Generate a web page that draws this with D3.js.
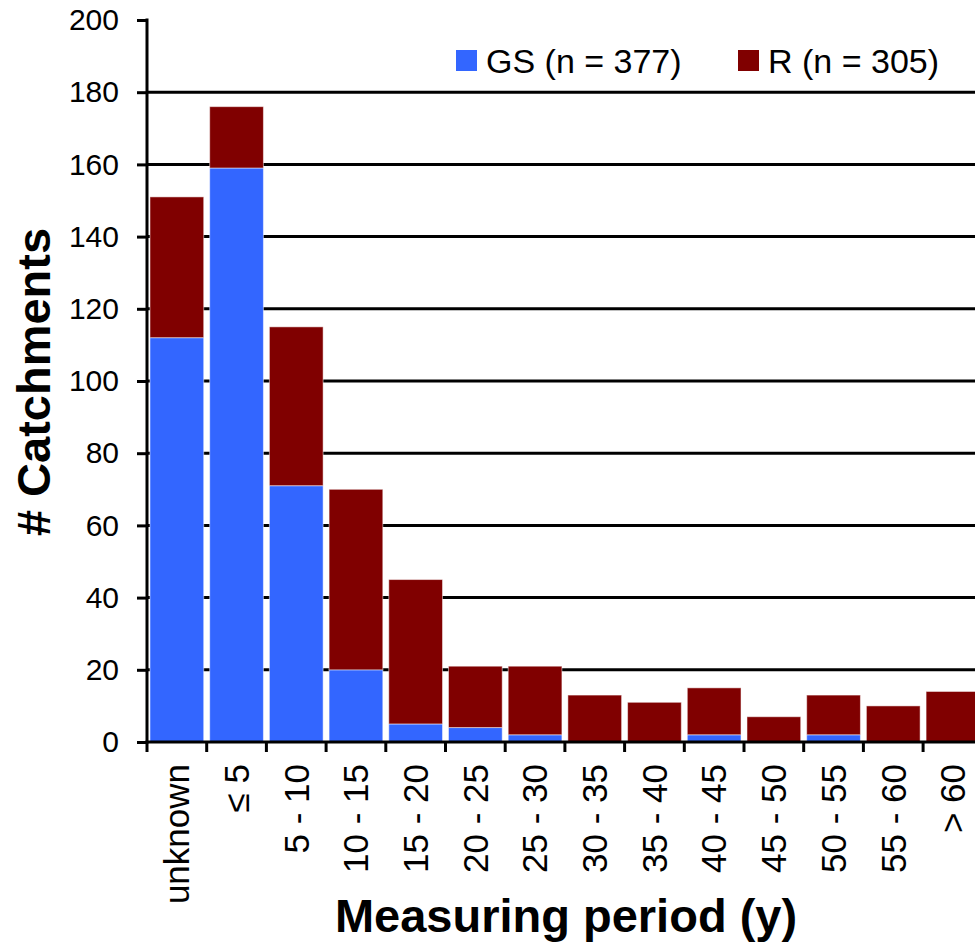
<!DOCTYPE html>
<html>
<head>
<meta charset="utf-8">
<script src="https://cdn.jsdelivr.net/npm/d3@7"></script>
<style>
    body { margin: 0; background: #fff; }
    svg { display: block; font-family: "Liberation Sans", Arial, sans-serif; }
    .grid line { stroke: #000; stroke-width: 3; }
    .bar { stroke: #fff; stroke-opacity: 0.5; stroke-width: 1; }
</style>
</head>
<body>
<svg id="main" width="975" height="949"></svg>
<script>
    // data
    var categories = ['unknown', '\u2264 5', '5 - 10', '10 - 15', '15 - 20', '20 - 25', '25 - 30',
                      '30 - 35', '35 - 40', '40 - 45', '45 - 50', '50 - 55', '55 - 60', '> 60']
    var gsValues = [112, 159, 71, 20, 5, 4, 2, 0, 0, 2, 0, 2, 0, 0]
    var rValues  = [39, 17, 44, 50, 40, 17, 19, 13, 11, 13, 7, 11, 10, 14]
    var yTicks = [0, 20, 40, 60, 80, 100, 120, 140, 160, 180, 200]
    var seriesNames = ['GS (n = 377)', 'R (n = 305)']
    var colors = ['#3366ff', '#800000']

    var svg = d3.select('#main')
    var mLeft = 147, mTop = 20, mBottom = 742
    var step = 59.7

    var x = d3.scaleBand()
        .domain(categories)
        .range([mLeft, mLeft + step * categories.length])
        .paddingInner(0.1)
        .paddingOuter(0.05)

    var y = d3.scaleLinear().domain([0, 200]).range([mBottom, mTop])

    // gridlines (no line at the top value)
    svg.append('g').attr('class', 'grid')
        .selectAll('line')
        .data(yTicks.filter(d => d > 0 && d < 200))
        .enter().append('line')
        .attr('x1', mLeft).attr('x2', 975)
        .attr('y1', d => y(d)).attr('y2', d => y(d))

    // stacked bars
    var rows = categories.map((c, i) => ({cat: c, gs: gsValues[i], r: rValues[i]}))
    var stack = d3.stack().keys(['gs', 'r'])(rows)

    svg.append('g').selectAll('g')
        .data(stack)
        .enter().append('g')
        .attr('fill', (d, i) => colors[i])
        .selectAll('rect')
        .data(d => d.filter(p => p[1] > p[0]))
        .enter().append('rect')
        .attr('class', 'bar')
        .attr('x', d => x(d.data.cat))
        .attr('width', x.bandwidth())
        .attr('y', d => y(d[1]))
        .attr('height', d => y(d[0]) - y(d[1]))

    // y axis
    var yAxis = svg.append('g')
        .attr('transform', 'translate(' + mLeft + ',0)')
        .call(d3.axisLeft(y).tickValues(yTicks).tickSize(10).tickPadding(18))
    yAxis.select('.domain').attr('stroke-width', 3).attr('d', 'M0,' + (mTop - 1.5) + 'V' + (mBottom + 1.5))
    yAxis.selectAll('.tick line').attr('stroke-width', 3)
    yAxis.selectAll('.tick text')
        .style('font-family', '"Liberation Sans", Arial, sans-serif')
        .style('font-size', '30px').attr('fill', '#000')

    // x axis: ticks sit on the band edges
    var edges = categories.map(c => x(c) - x.step() * x.paddingInner() / 2)
    edges.push(x.range()[1])
    var xg = svg.append('g')
    xg.append('line')
        .attr('x1', mLeft - 1.5).attr('x2', 975)
        .attr('y1', mBottom).attr('y2', mBottom)
        .attr('stroke', '#000').attr('stroke-width', 3)
    xg.selectAll('.xt')
        .data(edges)
        .enter().append('line')
        .attr('class', 'xt')
        .attr('x1', d => d).attr('x2', d => d)
        .attr('y1', mBottom).attr('y2', mBottom + 10)
        .attr('stroke', '#000').attr('stroke-width', 3)
    xg.selectAll('text')
        .data(categories)
        .enter().append('text')
        .attr('transform', d => 'translate(' + (x(d) + x.bandwidth() / 2) + ',' + (mBottom + 22) + ') rotate(-90)')
        .attr('text-anchor', 'end')
        .attr('dy', '0.35em')
        .style('font-size', '35px')
        .text(d => d)

    // axis titles
    svg.append('text')
        .attr('transform', 'translate(50,382) rotate(-90)')
        .attr('text-anchor', 'middle')
        .style('font-size', '47px').style('font-weight', 'bold')
        .text('# Catchments')
    svg.append('text')
        .attr('x', 566).attr('y', 932)
        .attr('text-anchor', 'middle')
        .style('font-size', '47px').style('font-weight', 'bold')
        .text('Measuring period (y)')

    // legend
    var legX = [456, 738]
    var leg = svg.append('g').selectAll('g')
        .data(seriesNames)
        .enter().append('g')
        .attr('transform', (d, i) => 'translate(' + legX[i] + ',50)')
    leg.append('rect')
        .attr('width', 21).attr('height', 21)
        .attr('fill', (d, i) => colors[i])
    leg.append('text')
        .attr('x', 30).attr('y', 11).attr('dy', '0.35em')
        .style('font-size', '34px')
        .text(d => d)
</script>
</body>
</html>
